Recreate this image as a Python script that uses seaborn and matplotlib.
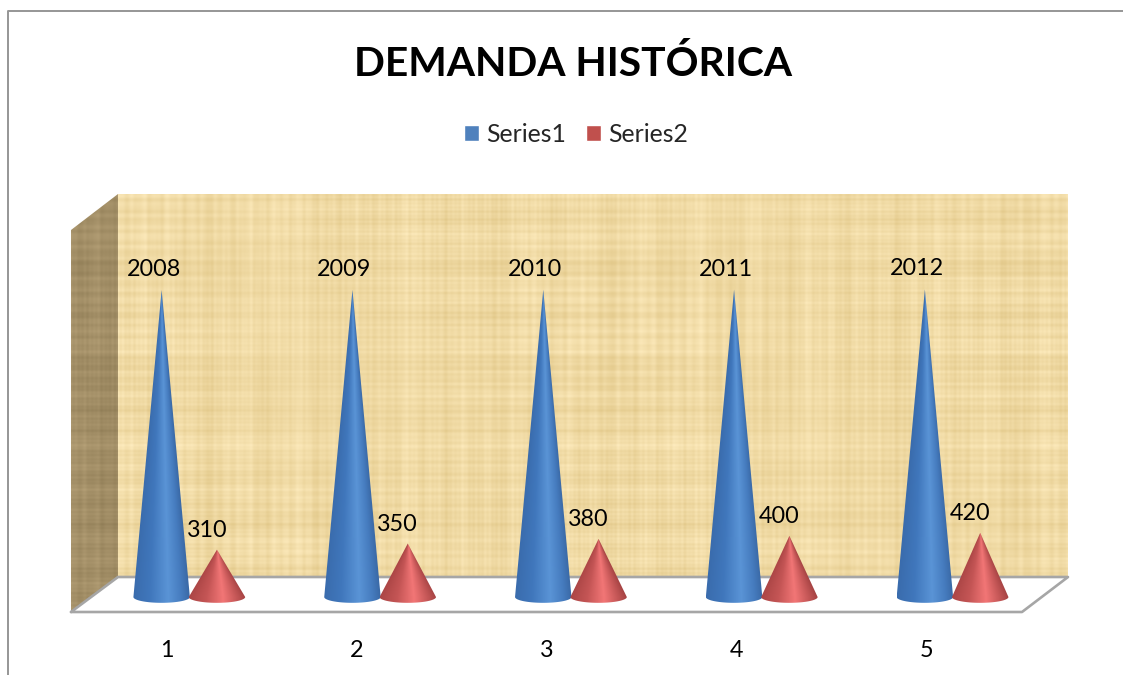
# Demanda historica: conos 3D sobre pared de papiro
import numpy as np
import pandas as pd
import seaborn as sns
import matplotlib.pyplot as plt
from matplotlib.colors import LinearSegmentedColormap
from matplotlib.patches import Polygon
from matplotlib.transforms import ScaledTranslation

# Datos
categorias = ["1", "2", "3", "4", "5"]
serie1 = [2008, 2009, 2010, 2011, 2012]
serie2 = [310, 350, 380, 400, 420]
nombres = ["Series1", "Series2"]
colores = ["#4F81BD", "#C0504D"]

sns.set_theme(style="white")
plt.rcParams["font.family"] = ["Lato", "DejaVu Sans"]

W, H = 1123, 675
fig = plt.figure(figsize=(W / 100, H / 100), dpi=100)

# Ejes de fondo en pixeles para marco, paredes y suelo
bg = fig.add_axes([0, 0, 1, 1], zorder=0)
bg.set_xlim(0, W)
bg.set_ylim(H, 0)
bg.axis("off")


def textura(nx, ny):
    # Trama determinista tipo papiro: hilos rectos que aparecen por zonas
    x, y = np.meshgrid(np.arange(nx), np.arange(ny))
    t = np.zeros((ny, nx))
    for f, a, p in [(0.047, 0.2, 0.3), (0.109, 0.3, 1.1), (0.237, 0.3, 2.0), (0.53, 0.35, 0.7), (0.89, 0.25, 2.9), (1.37, 0.2, 1.7)]:
        t = t + a * np.sin(f * x + p) * (0.5 + 0.5 * np.sin(0.0173 * y + 3.1 * p) * np.sin(0.0071 * x + p))
        t = t + a * np.sin(f * 1.13 * y + p * 2) * (0.5 + 0.5 * np.sin(0.0131 * x + 2.3 * p) * np.sin(0.0091 * y + p))
    return t / np.abs(t).max()


# Pared trasera
tex = textura(950, 383)
rgb = np.array([240, 218, 164])[None, None, :] + tex[:, :, None] * np.array([15, 19, 28])
bg.imshow(np.clip(rgb, 0, 255).astype(np.uint8), extent=(118, 1068, 577, 194), aspect="auto", interpolation="bilinear", zorder=1)

# Pared lateral
tex_l = textura(47, 418)
rgb_l = np.array([162, 142, 102])[None, None, :] + tex_l[:, :, None] * np.array([18, 17, 16])
im_l = bg.imshow(np.clip(rgb_l, 0, 255).astype(np.uint8), extent=(71, 118, 612, 194), aspect="auto", interpolation="bilinear", zorder=1)
im_l.set_clip_path(Polygon([(71, 230), (118, 194), (118, 577), (71, 612)], transform=bg.transData))
bg.set_xlim(0, W)
bg.set_ylim(H, 0)

# Suelo
bg.add_patch(Polygon([(71, 612), (118, 577), (1068, 577), (1022, 612)], closed=True, facecolor="white", edgecolor="none", zorder=2))
bg.plot([71, 1022, 1068, 118, 71], [612, 612, 577, 577, 612], color="#a6a6a6", lw=1.9, zorder=3)

# Marco exterior
bg.plot([8, 8, W], [H, 11, 11], color="#969696", lw=1.4, zorder=3)

# Ejes de datos, transparentes encima del fondo
ax = fig.add_axes([71 / W, 1 - 612 / H, (1022 - 71) / W, (612 - 194) / H], zorder=1)
ax.patch.set_alpha(0)

df = pd.DataFrame({
    "categoria": categorias * 2,
    "valor": serie1 + serie2,
    "serie": [nombres[0]] * 5 + [nombres[1]] * 5,
})
sns.barplot(data=df, x="categoria", y="valor", hue="serie", palette=colores, saturation=1, width=0.58, ax=ax)
ax.set_xlim(-0.62, 4.364)
ax.set_ylim(-98, 2636)
xlim, ylim = ax.get_xlim(), ax.get_ylim()

# Mapas de color de los conos: borde oscuro, brillo central
cmap_azul = LinearSegmentedColormap.from_list("azul", [(0, "#3a6cad"), (0.3, "#4077bc"), (0.62, "#5a94d6"), (0.85, "#467cbf"), (1, "#3a69a6")])
cmap_rojo = LinearSegmentedColormap.from_list("rojo", [(0, "#ac4646"), (0.3, "#c45555"), (0.6, "#f27676"), (0.82, "#c85959"), (1, "#a54343")])

elipse = 38  # semieje vertical de la base, en unidades del eje y
for cont, cmap in zip(ax.containers, [cmap_azul, cmap_rojo]):
    for barra in cont:
        barra.set_visible(False)
        xc = barra.get_x() + barra.get_width() / 2
        r = barra.get_width() * 0.51
        alto = barra.get_height()

        # Sombreado segun la posicion relativa dentro del cono
        xs = np.linspace(xc - r, xc + r, 160)
        ys = np.linspace(-elipse, alto, 400)
        gx, gy = np.meshgrid(xs, ys)
        radio = r * np.clip(1 - gy / alto, 0.01, 1)
        u = np.clip((gx - xc) / radio, -1, 1) / 2 + 0.5
        im = ax.imshow(u, extent=(xc - r, xc + r, -elipse, alto), origin="lower", aspect="auto", cmap=cmap, vmin=0, vmax=1, zorder=3)

        # Silueta: punta y media elipse inferior
        th = np.linspace(np.pi, 2 * np.pi, 40)
        contorno = np.column_stack([xc + r * np.cos(th), elipse * np.sin(th)])
        contorno = np.vstack([contorno, [xc, alto]])
        im.set_clip_path(Polygon(contorno, closed=True, transform=ax.transData))

        # Etiqueta de datos, desplazada a la izquierda como en Excel
        grande = alto > 1000
        ax.annotate(f"{alto:.0f}", (xc, alto), xytext=(-8 * 0.72 if grande else -10 * 0.72, (10 if grande else 9) * 0.72),
                    textcoords="offset points", ha="center", va="bottom", fontsize=16.8, color="black", zorder=5)

ax.set_xlim(xlim)
ax.set_ylim(ylim)

# Ejes sin lineas, con las etiquetas de categoria corridas
sns.despine(ax=ax, left=True, bottom=True, top=True, right=True)
ax.set_xlabel("")
ax.set_ylabel("")
ax.set_yticks([])
ax.tick_params(axis="x", length=0, pad=20, labelsize=16.8, labelcolor="black")
for i, etiqueta in enumerate(ax.get_xticklabels()):
    corrimiento = ScaledTranslation((-22.5 - i) / 100, 0, fig.dpi_scale_trans)
    etiqueta.set_transform(etiqueta.get_transform() + corrimiento)

# Leyenda arriba, centrada
sns.move_legend(ax, "center", bbox_to_anchor=(576 / W, 1 - 134.5 / H), bbox_transform=fig.transFigure,
                ncol=2, frameon=False, title=None, fontsize=17.9, handlelength=0.62, handleheight=0.62,
                handletextpad=0.28, columnspacing=0.8)

# Titulo
fig.text(572.5 / W, 1 - 64 / H, "DEMANDA HISTÓRICA", ha="center", va="center", fontsize=29.3, fontweight="bold", color="black")

fig.savefig("out.png", dpi=100)
